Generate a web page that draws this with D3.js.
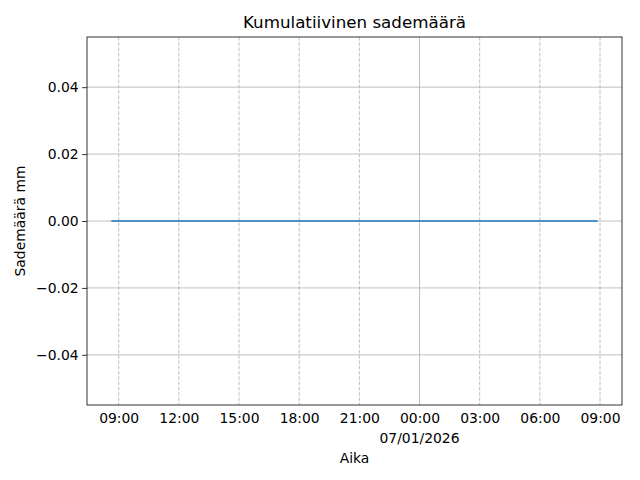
<!DOCTYPE html>
<html><head><meta charset="utf-8">
<script src="https://cdn.jsdelivr.net/npm/d3@7"></script>
<style>body{margin:0;background:#fff}svg{display:block;font-family:"DejaVu Sans",sans-serif}</style>
</head><body><svg id="c" width="640" height="480"></svg>
<script>
const times = ["2026-01-06T08:38", "2026-01-07T08:53"];
const values = [0, 0];
const yTicks = [-0.04, -0.02, 0.00, 0.02, 0.04];
const title = "Kumulatiivinen sademäärä";
const xLabel = "Aika";
const yLabel = "Sademäärä mm";

const parse = d3.timeParse("%Y-%m-%dT%H:%M");
const data = times.map((t, i) => ({t: parse(t), v: values[i]}));
const svg = d3.select("#c");
const L = 87, R = 622, T = 37, B = 405;
const t0 = data[0].t, t1 = data[data.length - 1].t;
const pad = (t1 - t0) * 0.05;
const x = d3.scaleTime().domain([new Date(+t0 - pad), new Date(+t1 + pad)]).range([L, R]);
const y = d3.scaleLinear().domain([-0.055, 0.055]).range([B, T]);

// grid
const xt = x.ticks(d3.timeHour.every(3));
svg.append("g").selectAll("line").data(xt).join("line")
  .attr("x1", d => x(d)).attr("x2", d => x(d)).attr("y1", T).attr("y2", B)
  .attr("stroke", "#b0b0b0").attr("stroke-width", 0.8)
  .attr("stroke-dasharray", d => d.getHours() === 0 ? null : "3.7,1.6");
svg.append("g").selectAll("line").data(yTicks).join("line")
  .attr("x1", L).attr("x2", R).attr("y1", d => y(d)).attr("y2", d => y(d))
  .attr("stroke", "#b0b0b0").attr("stroke-width", 0.8);

// line
svg.append("path").datum(data)
  .attr("d", d3.line().x(d => x(d.t)).y(d => y(d.v)))
  .attr("fill", "none").attr("stroke", "#1f77b4").attr("stroke-width", 1.5);

// frame
svg.append("rect").attr("x", L).attr("y", T).attr("width", R - L).attr("height", B - T)
  .attr("fill", "none").attr("stroke", "#000").attr("stroke-width", 0.8);

// y axis
const yAx = svg.append("g").attr("transform", `translate(${L},0)`)
  .call(d3.axisLeft(y).tickValues(yTicks).tickSize(4.9).tickPadding(3.5)
    .tickFormat(d => d3.format(".2f")(d).replace("-", "\u2212")));
yAx.select(".domain").remove();
yAx.selectAll("line").attr("stroke-width", 0.8);
yAx.selectAll("text").attr("font-size", 13.9).attr("font-family", "DejaVu Sans").attr("fill", "#000");

// x axis
const xAx = svg.append("g").attr("transform", `translate(0,${B})`)
  .call(d3.axisBottom(x).tickValues(xt).tickSize(0).tickPadding(8)
    .tickFormat(d3.timeFormat("%H:%M")));
xAx.select(".domain").remove();
xAx.selectAll("text").attr("font-size", 13.9).attr("font-family", "DejaVu Sans").attr("fill", "#000");
const mid = xt.find(d => d.getHours() === 0);
svg.append("text").attr("x", x(mid)).attr("y", 443).attr("text-anchor", "middle")
  .attr("font-size", 13.9).text(d3.timeFormat("%d/%m/%Y")(mid));

svg.append("text").attr("x", (L + R) / 2).attr("y", 463).attr("text-anchor", "middle")
  .attr("font-size", 13.9).text(xLabel);
svg.append("text").attr("transform", "translate(25,221) rotate(-90)").attr("text-anchor", "middle")
  .attr("font-size", 13.9).text(yLabel);
svg.append("text").attr("x", (L + R) / 2).attr("y", 28).attr("text-anchor", "middle")
  .attr("font-size", 16.7).text(title);
</script></body></html>
